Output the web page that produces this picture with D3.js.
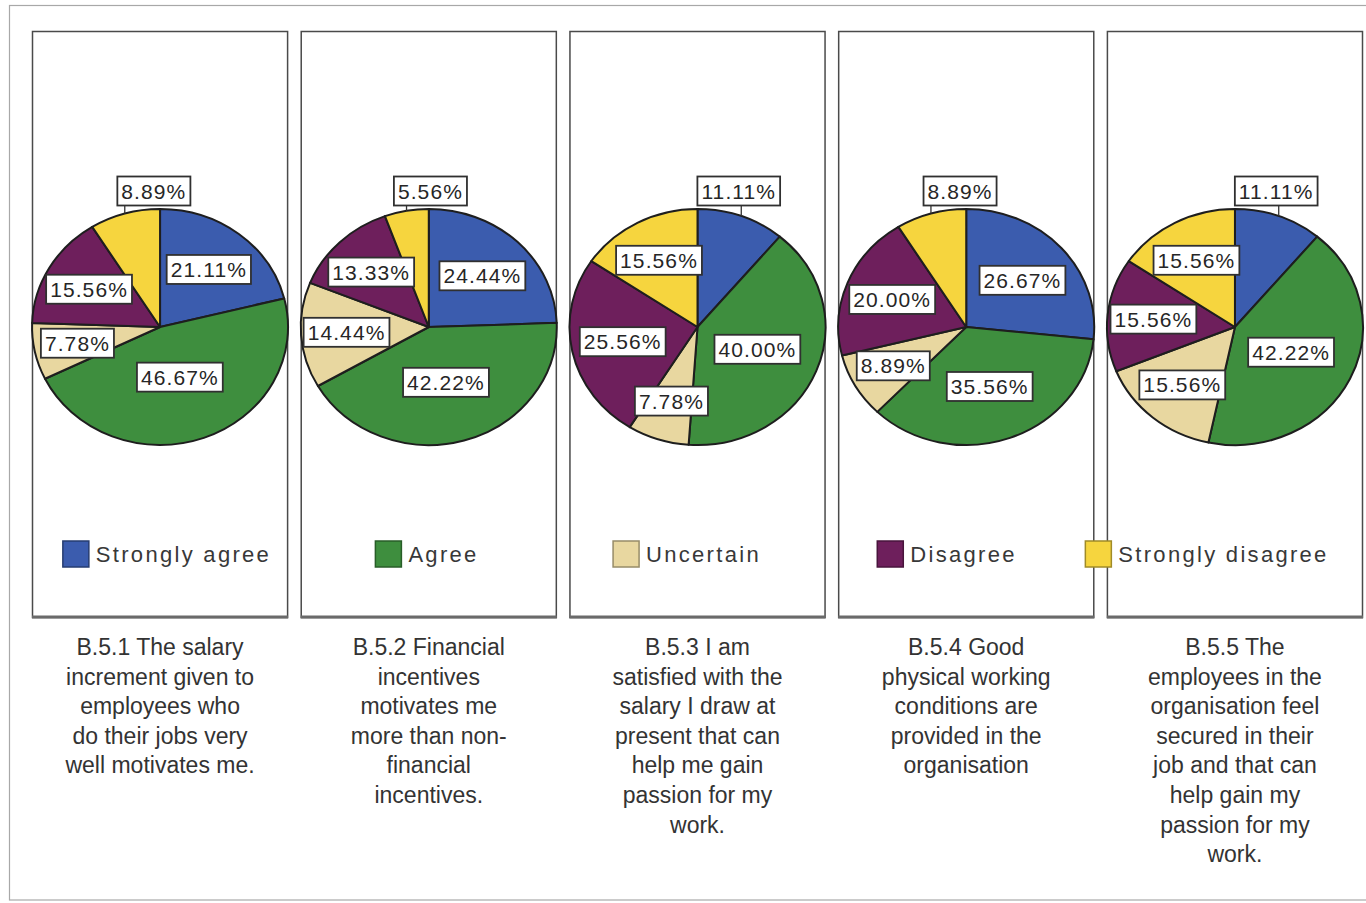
<!DOCTYPE html>
<html>
<head>
<meta charset="utf-8">
<script src="https://cdn.jsdelivr.net/npm/d3@7"></script>
<style>
  html, body { margin: 0; padding: 0; background: #ffffff; }
  svg { display: block; }
  text { font-family: "Liberation Sans", Arial, sans-serif; }
</style>
</head>
<body>
<svg id="chart" width="1366" height="903"></svg>
<script>
// Response categories, in drawing order (clockwise from 12 o'clock)
const categories = ["Strongly agree", "Agree", "Uncertain", "Disagree", "Strongly disagree"];
const colors = ["#3b5cae", "#3e8e3e", "#e8d7a0", "#6e1f5c", "#f6d53e"];

// Survey items
const questionIds = ["B.5.1", "B.5.2", "B.5.3", "B.5.4", "B.5.5"];
const captions = [
  ["B.5.1 The salary", "increment given to", "employees who", "do their jobs very", "well motivates me."],
  ["B.5.2 Financial", "incentives", "motivates me", "more than non-", "financial", "incentives."],
  ["B.5.3 I am", "satisfied with the", "salary I draw at", "present that can", "help me gain", "passion for my", "work."],
  ["B.5.4 Good", "physical working", "conditions are", "provided in the", "organisation"],
  ["B.5.5 The", "employees in the", "organisation feel", "secured in their", "job and that can", "help gain my", "passion for my", "work."]
];

// Percentages per question (one array per response category)
const stronglyAgree    = [21.11, 24.44, 11.11, 26.67, 11.11];
const agree            = [46.67, 42.22, 40.00, 35.56, 42.22];
const uncertain        = [7.78, 14.44, 7.78, 8.89, 15.56];
const disagree         = [15.56, 13.33, 25.56, 20.00, 15.56];
const stronglyDisagree = [8.89, 5.56, 15.56, 8.89, 15.56];

const seriesValues = [stronglyAgree, agree, uncertain, disagree, stronglyDisagree];

const svg = d3.select("#chart");

// Outer chart frame
svg.append("rect")
  .attr("x", 9.5).attr("y", 5.5)
  .attr("width", 1380).attr("height", 894.5)
  .attr("fill", "none").attr("stroke", "#a8a8a8").attr("stroke-width", 1.2);

// One panel per question
const x = d3.scaleBand().domain(questionIds).range([32, 1363]).paddingInner(0.047);
const panelTop = 31, panelBottom = 617;
const cy = 327, rx = 128, ry = 118;

const pie = d3.pie().sort(null).value(d => d.value);
const arc = d3.arc().innerRadius(0).outerRadius(rx);

questionIds.forEach((q, qi) => {
  const g = svg.append("g");
  const left = x(q), w = x.bandwidth(), cx = left + w / 2;

  // panel frame
  g.append("rect")
    .attr("x", left + 0.5).attr("y", panelTop + 0.5)
    .attr("width", w - 1).attr("height", panelBottom - panelTop)
    .attr("fill", "#fff").attr("stroke", "#4a4a4a").attr("stroke-width", 1.5);
  g.append("line")
    .attr("x1", left).attr("x2", left + w)
    .attr("y1", panelBottom).attr("y2", panelBottom)
    .attr("stroke", "#6a6a6a").attr("stroke-width", 3);

  const data = categories.map((c, ci) => ({ cat: c, idx: ci, value: seriesValues[ci][qi] }));
  const arcs = pie(data);

  // slices (drawn as a circle scaled vertically into an ellipse)
  const pg = g.append("g").attr("transform", `translate(${cx},${cy}) scale(1,${ry / rx})`);
  pg.selectAll("path").data(arcs).join("path")
    .attr("d", arc)
    .attr("fill", d => colors[d.data.idx])
    .attr("stroke", "#1e1e1e")
    .attr("stroke-width", 2)
    .attr("vector-effect", "non-scaling-stroke")
    .attr("stroke-linejoin", "round");

  // value labels: at the slice's area centroid, or above the pie for thin top slices
  const lg = g.append("g");
  arcs.forEach(a => {
    const mid = (a.startAngle + a.endAngle) / 2;
    const half = (a.endAngle - a.startAngle) / 2;
    const deg = mid * 180 / Math.PI;
    const nearTop = deg < 30 || deg > 330;
    const outside = nearTop && a.data.value < 12;
    let lx, ly;
    if (outside) {
      lx = cx + rx * Math.sin(mid) * 0.6 + 15;
      ly = cy - ry - 18;
    } else {
      const f = Math.min(0.66, (2 / 3) * Math.sin(half) / half);
      lx = cx + rx * f * Math.sin(mid);
      ly = cy - ry * f * Math.cos(mid);
    }
    const label = a.data.value.toFixed(2) + "%";
    const lab = lg.append("g");
    const t = lab.append("text")
      .attr("x", lx).attr("y", ly)
      .attr("text-anchor", "middle")
      .attr("dominant-baseline", "central")
      .attr("font-size", 21)
      .attr("letter-spacing", 1.1)
      .attr("fill", "#262626")
      .text(label);
    const tw = t.node().getComputedTextLength();
    const bw = tw + 8, bh = 29;
    if (outside) {
      const ex = cx + rx * Math.sin(mid);
      const ey = cy - ry * Math.cos(mid);
      const lineX = Math.max(lx - bw / 2 + 6, Math.min(lx + bw / 2 - 6, ex));
      lab.insert("line", "text")
        .attr("x1", lineX).attr("x2", lineX)
        .attr("y1", ly + bh / 2).attr("y2", ey)
        .attr("stroke", "#333").attr("stroke-width", 1.3);
    }
    lab.insert("rect", "text")
      .attr("x", lx - bw / 2).attr("y", ly - bh / 2)
      .attr("width", bw).attr("height", bh)
      .attr("fill", "#fff").attr("stroke", "#303030").attr("stroke-width", 1.8);
  });

  // question caption below the panel
  const cap = g.append("text")
    .attr("text-anchor", "middle")
    .attr("font-size", 23)
    .attr("fill", "#333");
  captions[qi].forEach((line, li) => {
    cap.append("tspan")
      .attr("x", cx)
      .attr("y", 655 + li * 29.6)
      .text(line);
  });
});

// Legend across the bottom of the panels
const legendX = d3.scalePoint().domain(categories).range([167, 1207]);
const legendY = 554;
const legend = svg.append("g");
categories.forEach((c, ci) => {
  const item = legend.append("g");
  const t = item.append("text")
    .attr("y", legendY)
    .attr("dominant-baseline", "central")
    .attr("font-family", "'DejaVu Sans', sans-serif")
    .attr("font-size", 22)
    .attr("letter-spacing", 2.3)
    .attr("fill", "#383838")
    .text(c);
  const tw = t.node().getComputedTextLength();
  const sq = 26, gap = 7;
  const total = sq + gap + tw;
  const start = legendX(c) - total / 2;
  t.attr("x", start + sq + gap);
  item.insert("rect", "text")
    .attr("x", start).attr("y", legendY - sq / 2)
    .attr("width", sq).attr("height", sq)
    .attr("fill", colors[ci])
    .attr("stroke", d3.color(colors[ci]).darker(1.2))
    .attr("stroke-width", 1.5);
});
</script>
</body>
</html>
